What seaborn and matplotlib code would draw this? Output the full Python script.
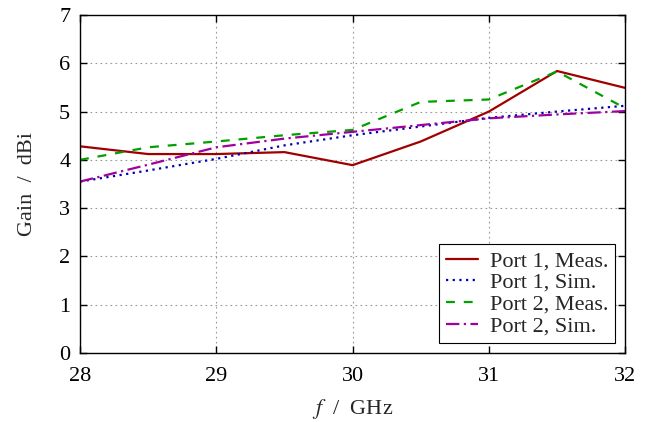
import matplotlib
matplotlib.use("Agg")
import matplotlib.pyplot as plt
import seaborn as sns
import pandas as pd

freq = [28.0, 28.5, 29.0, 29.5, 30.0, 30.5, 31.0, 31.5, 32.0]
p1_meas = [4.28, 4.12, 4.12, 4.16, 3.89, 4.38, 5.00, 5.84, 5.49]
p1_sim = [3.55, 3.78, 4.02, 4.30, 4.51, 4.69, 4.87, 5.00, 5.12]
p2_meas = [4.00, 4.26, 4.38, 4.51, 4.62, 5.20, 5.25, 5.83, 5.07]
p2_sim = [3.55, 3.90, 4.26, 4.44, 4.58, 4.72, 4.86, 4.94, 5.01]
labels = ["Port 1, Meas.", "Port 1, Sim.", "Port 2, Meas.", "Port 2, Sim."]
xticks = [28, 29, 30, 31, 32]
yticks = [0, 1, 2, 3, 4, 5, 6, 7]

sns.set_style("ticks")
plt.rcParams['font.family'] = ['Liberation Serif', 'DejaVu Serif']
plt.rcParams['mathtext.fontset'] = 'stix'

FS = 16
fig = plt.figure(figsize=(6.56, 4.22), dpi=100)
ax = fig.add_axes([0.122, 0.1635, 0.831, 0.801])

series = [p1_meas, p1_sim, p2_meas, p2_sim]
colors = ["#a00000", "#0000b0", "#00a000", "#a000a0"]
styles = ["-", (0, (1, 2)), (0, (4, 4)), (0, (6, 2, 1, 2))]
for vals, lab, c, ls in zip(series, labels, colors, styles):
    df = pd.DataFrame({"f": freq, "g": vals})
    sns.lineplot(data=df, x="f", y="g", ax=ax, color=c, linestyle=ls,
                 linewidth=1.6, label=lab)

ax.set_xlim(28, 32)
ax.set_ylim(0, 7)
ax.set_xticks(xticks)
ax.set_yticks(yticks)
ax.grid(True, color="#999999", linestyle=(0, (1.5, 3)), linewidth=0.8)
ax.tick_params(direction="in", top=True, right=True, length=5, width=1,
               labelsize=FS, colors="black")
ax.tick_params(axis="x", pad=10)
ax.tick_params(axis="y", pad=7)
for s in ax.spines.values():
    s.set_linewidth(1.0)
    s.set_color("black")
ax.set_xlabel("$f$  /  GHz", fontsize=FS, labelpad=8)
ax.set_ylabel("Gain  /  dBi", fontsize=FS, labelpad=16)
leg = ax.legend(loc="lower right", fontsize=FS, frameon=True, fancybox=False,
                edgecolor="black", framealpha=1, borderpad=0.3,
                labelspacing=0.05, handlelength=1.45, handletextpad=0.55,
                borderaxespad=0.45)
leg.get_frame().set_linewidth(0.8)
fig.savefig("out.png", dpi=100)
